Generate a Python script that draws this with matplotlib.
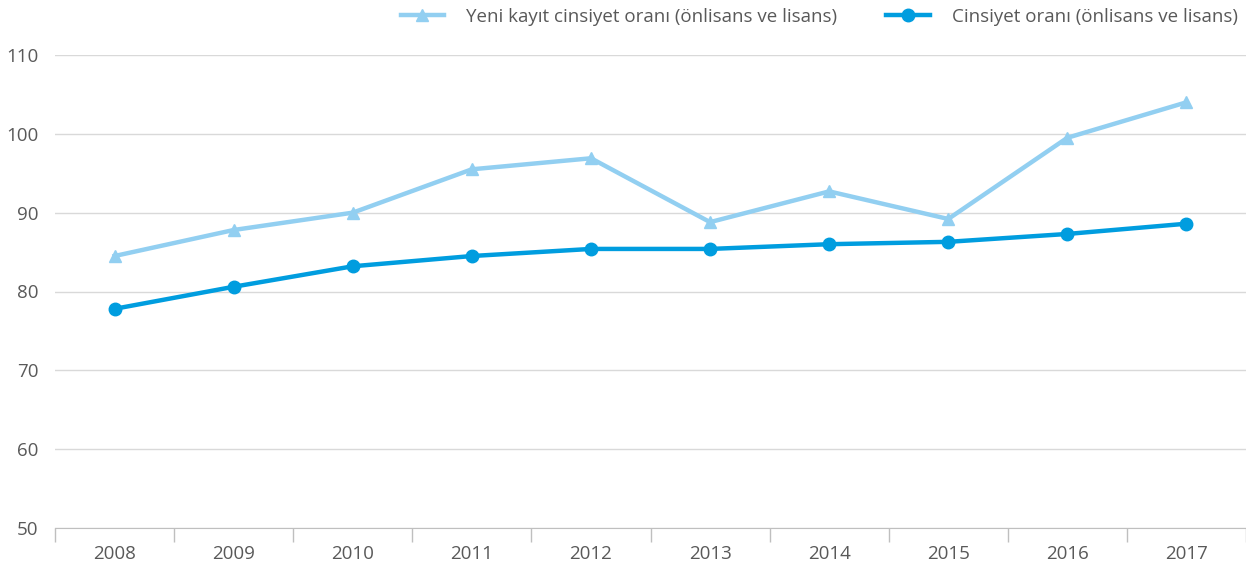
import matplotlib
matplotlib.use("Agg")
import matplotlib.pyplot as plt
from matplotlib.ticker import FixedLocator

years = ["2008", "2009", "2010", "2011", "2012", "2013", "2014", "2015", "2016", "2017"]
yeni_kayit = [84.5, 87.8, 90.0, 95.5, 96.9, 88.8, 92.7, 89.2, 99.5, 104.0]
cinsiyet = [77.8, 80.6, 83.2, 84.5, 85.4, 85.4, 86.0, 86.3, 87.3, 88.6]
yticks = [50, 60, 70, 80, 90, 100, 110]

plt.rcParams['font.family'] = ['Open Sans', 'DejaVu Sans']
text_color = '#595959'
light = '#92CFF1'
dark = '#009DDF'
fs = 13.5

fig = plt.figure(figsize=(12.46, 5.67), dpi=100)
ax = fig.add_axes([55/1246, 1-528/567, 1-55/1246, (528-55)/567])

x = list(range(len(years)))
ax.plot(x, yeni_kayit, color=light, lw=3.2, marker='^', ms=9, label='Yeni kayıt cinsiyet oranı (önlisans ve lisans)', zorder=3)
ax.plot(x, cinsiyet, color=dark, lw=3.2, marker='o', ms=9, label='Cinsiyet oranı (önlisans ve lisans)', zorder=4)

ax.set_xlim(-0.5, len(years) - 0.5)
ax.set_ylim(50, 110)
ax.set_yticks(yticks)
ax.set_xticks(x)
ax.set_xticklabels(years)
ax.xaxis.set_minor_locator(FixedLocator([i - 0.5 for i in range(len(years) + 1)]))
ax.tick_params(axis='x', which='major', length=0, pad=12, labelsize=fs, labelcolor=text_color)
ax.tick_params(axis='x', which='minor', length=10, color='#bfbfbf', width=1)
ax.tick_params(axis='y', length=0, pad=12, labelsize=fs, labelcolor=text_color)
ax.grid(axis='y', color='#d9d9d9', lw=1)
ax.set_axisbelow(True)
for s in ['top', 'right', 'left']:
    ax.spines[s].set_visible(False)
ax.spines['bottom'].set_color('#bfbfbf')
ax.spines['bottom'].set_zorder(0)

leg = fig.legend(loc='center right', bbox_to_anchor=(1238/1246, 1-17/567), ncol=2, frameon=False,
                 fontsize=fs, handlelength=2.3, columnspacing=2.6, handletextpad=1.2,
                 borderaxespad=0, borderpad=0)
for t in leg.get_texts():
    t.set_color(text_color)

fig.savefig('out.png', dpi=100)
